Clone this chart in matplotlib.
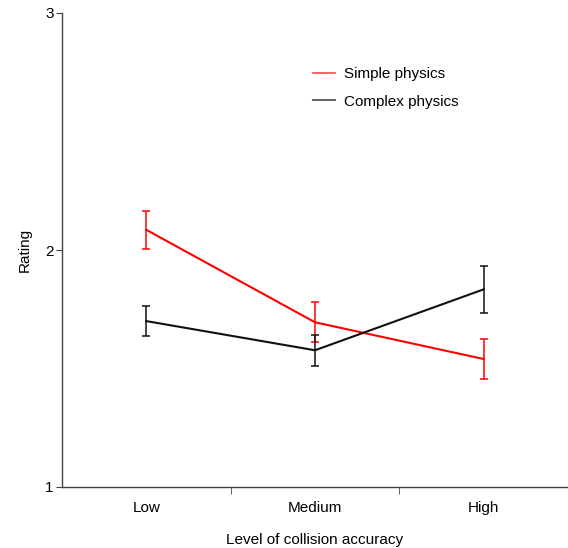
import matplotlib
matplotlib.use("Agg")
import matplotlib.pyplot as plt
from matplotlib.lines import Line2D
import numpy as np

plt.rcParams['font.family'] = ['Liberation Sans', 'DejaVu Sans']

levels = ["Low", "Medium", "High"]
simple_mean = [2.085, 1.695, 1.54]
simple_err = [0.08, 0.085, 0.085]
complex_mean = [1.70, 1.577, 1.834]
complex_err = [0.062, 0.065, 0.10]

fig = plt.figure(figsize=(5.68, 5.48), dpi=100)
ax = fig.add_axes([62/568, 1-487/548, 1-62/568, (487-13)/548])

x = np.arange(len(levels))
ax.errorbar(x, simple_mean, yerr=simple_err, color="#ff0000", lw=1.5,
            capsize=3, elinewidth=1.1, capthick=1.1, label="Simple physics")
ax.errorbar(x, complex_mean, yerr=complex_err, color="#111111", lw=1.5,
            capsize=3, elinewidth=1.1, capthick=1.1, label="Complex physics")

fs = 11
ax.set_xlim(-0.5, 2.5)
ax.set_ylim(1, 3)
ax.set_yticks([1, 2, 3])
ax.set_xticks(x)
ax.set_xticklabels(levels, fontsize=fs)
ax.set_xticks([0.5, 1.5], minor=True)
ax.tick_params(axis="x", which="major", length=0, pad=10)
ax.tick_params(axis="x", which="minor", length=5, direction="out", color="#444444")
ax.tick_params(axis="y", length=4, labelsize=fs, pad=2, color="#444444")

for s in ["top", "right"]:
    ax.spines[s].set_visible(False)
for s in ["left", "bottom"]:
    ax.spines[s].set_color("#444444")
    ax.spines[s].set_linewidth(1.0)

ax.set_ylabel("Rating", fontsize=fs, labelpad=10)
ax.set_xlabel("Level of collision accuracy", fontsize=fs, labelpad=13)

l = ["Simple physics", "Complex physics"]
handles = [Line2D([], [], color="#ff4444", lw=1.2), Line2D([], [], color="#666666", lw=1.5)]
ax.legend(handles, l, loc="upper left", bbox_to_anchor=(0.468, 0.915), frameon=False,
          fontsize=fs, handlelength=1.5, handletextpad=0.55, labelspacing=0.9)

fig.savefig("out.png", dpi=100)
